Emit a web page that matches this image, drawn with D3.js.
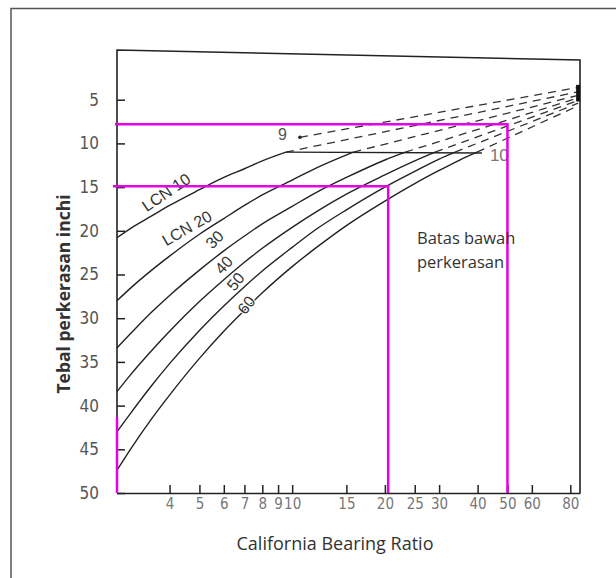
<!DOCTYPE html>
<html>
<head>
<meta charset="utf-8">
<script src="https://cdn.jsdelivr.net/npm/d3@7"></script>
<style>
  body { margin: 0; background: #fff; }
  svg { display: block; }
  .axis text { font-family: "Liberation Sans Narrow", "DejaVu Sans Condensed", "Liberation Sans", sans-serif; }
</style>
</head>
<body>
<div id="chart"></div>
<script>
// tick labels
var cbrTicks = [4, 5, 6, 7, 8, 9, 10, 15, 20, 25, 30, 40, 50, 60, 80];
var thickTicks = [5, 10, 15, 20, 25, 30, 35, 40, 45, 50];

// LCN curves, [CBR, thickness in inch]
var lcnNames = ["LCN 10", "LCN 20", "30", "40", "50", "60"];
var lcn10 = [[2.7, 20.8], [3, 19.7], [3.5, 18.3], [4, 17.1], [5, 15.3], [6, 13.9], [7, 12.9], [8, 12.0], [9.55, 11.0]];
var lcn20 = [[2.7, 28.0], [3, 26.5], [3.5, 24.5], [4, 22.9], [5, 20.4], [6, 18.6], [7, 17.1], [8, 15.9], [10, 14.2], [12, 12.8], [15.8, 11.0]];
var lcn30 = [[2.7, 33.4], [3, 31.7], [3.5, 29.3], [4, 27.4], [5, 24.5], [6, 22.3], [7, 20.6], [8, 19.2], [10, 17.2], [12, 15.6], [15, 13.9], [20, 11.9], [23.3, 11.0]];
var lcn40 = [[2.7, 38.4], [3, 36.4], [3.5, 33.7], [4, 31.5], [5, 28.1], [6, 25.6], [7, 23.6], [8, 22.0], [10, 19.6], [12, 17.8], [15, 15.8], [20, 13.6], [25, 12.0], [29.1, 11.0]];
var lcn50 = [[2.7, 43.0], [3, 40.8], [3.5, 37.7], [4, 35.2], [5, 31.4], [6, 28.6], [7, 26.4], [8, 24.6], [10, 21.9], [12, 19.8], [15, 17.6], [20, 15.0], [25, 13.2], [30, 11.8], [33.8, 11.0]];
var lcn60 = [[2.7, 47.4], [3, 44.9], [3.5, 41.5], [4, 38.8], [5, 34.6], [6, 31.5], [7, 29.1], [8, 27.1], [10, 24.1], [12, 21.9], [15, 19.4], [20, 16.6], [25, 14.6], [30, 13.1], [35, 11.9], [39.8, 11.0]];
var lcnCurves = [lcn10, lcn20, lcn30, lcn40, lcn50, lcn60];
// label anchor [CBR, thickness, angle]
var lcnLabelAt = [[3.9, 15.6, -34], [4.55, 19.7, -30], [5.6, 21.0, -45], [6.0, 23.9, -48], [6.55, 25.8, -50], [7.1, 28.5, -52]];

// limit line "10" and the dashed fan
var limitLine = [[9.55, 11.0], [41.3, 11.1]];
var dashStart = [[10.6, 9.3], [9.55, 11.0], [15.8, 11.0], [23.3, 11.0], [29.1, 11.0], [33.8, 11.0], [39.8, 11.0]];
var dashEnd = [[84.8, 3.6], [84.8, 4.1], [84.8, 4.5], [84.8, 4.8], [84.8, 5.1], [84.8, 5.4], [84.8, 5.7]];

// magenta reading lines
var readCbr = [50, 20.5];
var readThick = [7.8, 14.9];
var subgradeThick = [41.3, 50];

var svg = d3.select("#chart").append("svg")
  .attr("width", 616)
  .attr("height", 578);

var x = d3.scaleLog().domain([2.7, 86]).range([117, 580]),
  y = d3.scaleLinear().domain([0, 50]).range([56, 493]);

// outer border
svg.append("path")
  .attr("d", "M11,578 V8.5 H616")
  .attr("fill", "none")
  .attr("stroke", "#555")
  .attr("stroke-width", 1.5);

// plot frame (top edge is a bit skewed in the scan)
svg.append("path")
  .attr("d", "M" + x(2.7) + "," + y(50) + " V50 L" + x(86) + ",60 V" + y(50))
  .attr("fill", "none")
  .attr("stroke", "#222")
  .attr("stroke-width", 1.6);

var xAxis = d3.axisBottom(x).tickValues(cbrTicks).tickFormat(d3.format("d"))
  .tickSizeInner(-8).tickSizeOuter(0).tickPadding(5);
var yAxis = d3.axisLeft(y).tickValues(thickTicks)
  .tickSizeInner(-8).tickSizeOuter(0).tickPadding(18);

var gx = svg.append("g")
  .attr("class", "axis")
  .attr("transform", "translate(0," + y(50) + ")")
  .call(xAxis);
gx.select(".domain").attr("stroke", "#222").attr("stroke-width", 1.6);
gx.selectAll(".tick line").attr("stroke", "#222").attr("stroke-width", 1.5);
gx.selectAll(".tick text").attr("fill", "#777").style("font-size", "15px");

var gy = svg.append("g")
  .attr("class", "axis")
  .attr("transform", "translate(" + x(2.7) + ",0)")
  .call(yAxis);
gy.select(".domain").remove();
gy.selectAll(".tick line").attr("stroke", "#222").attr("stroke-width", 1.5);
gy.selectAll(".tick text").attr("fill", "#555").style("font-size", "17px");

var line = d3.line()
  .x(function(d) { return x(d[0]); })
  .y(function(d) { return y(d[1]); });

// dashed extensions
svg.selectAll(".dash")
  .data(dashStart)
  .enter()
  .append("path")
  .attr("class", "dash")
  .attr("d", function(d, i) { return line([d, dashEnd[i]]); })
  .attr("fill", "none")
  .attr("stroke", "#333")
  .attr("stroke-width", 1.3)
  .attr("stroke-dasharray", "8,6");

// blob where the dashed lines meet the edge
svg.append("path")
  .attr("d", line([[84.8, 3.3], [84.8, 5.2]]))
  .attr("stroke", "#111")
  .attr("stroke-width", 4);

svg.append("circle")
  .attr("cx", x(dashStart[0][0]))
  .attr("cy", y(dashStart[0][1]))
  .attr("r", 1.8)
  .attr("fill", "#222");
svg.append("text")
  .attr("x", x(dashStart[0][0]) - 22)
  .attr("y", y(dashStart[0][1]) + 3)
  .attr("font-family", "Liberation Sans Narrow, Liberation Sans, sans-serif")
  .attr("font-size", 16)
  .attr("fill", "#555")
  .text("9");

// limit line
svg.append("path")
  .attr("d", line(limitLine))
  .attr("fill", "none")
  .attr("stroke", "#222")
  .attr("stroke-width", 1.4);
svg.append("text")
  .attr("x", x(limitLine[1][0]) + 8)
  .attr("y", y(limitLine[1][1]) + 8)
  .attr("font-family", "Liberation Sans Narrow, Liberation Sans, sans-serif")
  .attr("font-size", 17)
  .attr("fill", "#777")
  .text("10");

// LCN curves
svg.selectAll(".lcn")
  .data(lcnCurves)
  .enter()
  .append("path")
  .attr("class", "lcn")
  .attr("d", line.curve(d3.curveMonotoneX))
  .attr("fill", "none")
  .attr("stroke", "#222")
  .attr("stroke-width", 1.4);

svg.selectAll(".lcnlabel")
  .data(lcnLabelAt)
  .enter()
  .append("text")
  .attr("class", "lcnlabel")
  .attr("transform", function(d) {
    return "translate(" + x(d[0]) + "," + y(d[1]) + ") rotate(" + d[2] + ")";
  })
  .attr("text-anchor", "middle")
  .attr("dy", "0.35em")
  .attr("font-family", "Liberation Sans Narrow, Liberation Sans, sans-serif")
  .attr("font-size", 16)
  .attr("fill", "#333")
  .attr("stroke", "#fff")
  .attr("stroke-width", 2)
  .attr("paint-order", "stroke")
  .text(function(d, i) { return lcnNames[i]; });

// magenta reading lines
var pink = "#e600e6";
readCbr.forEach(function(c, i) {
  svg.append("path")
    .attr("d", "M" + (x(2.7) - (i ? 4 : 2)) + "," + y(readThick[i]) + " H" + x(c) + " V" + y(50))
    .attr("fill", "none")
    .attr("stroke", pink)
    .attr("stroke-width", 2.5);
});
svg.append("path")
  .attr("d", line([[2.7, subgradeThick[0]], [2.7, subgradeThick[1]]]))
  .attr("stroke", pink)
  .attr("stroke-width", 2.5);

// texts
svg.append("text")
  .attr("x", 417)
  .attr("y", 244)
  .attr("font-family", "Open Sans, sans-serif")
  .attr("font-size", 16.5)
  .attr("fill", "#333")
  .text("Batas bawah");
svg.append("text")
  .attr("x", 417)
  .attr("y", 268)
  .attr("font-family", "Open Sans, sans-serif")
  .attr("font-size", 16.5)
  .attr("fill", "#333")
  .text("perkerasan");

svg.append("text")
  .attr("x", 335)
  .attr("y", 550)
  .attr("text-anchor", "middle")
  .attr("font-family", "Open Sans, sans-serif")
  .attr("font-size", 18)
  .attr("fill", "#333")
  .text("California Bearing Ratio");

svg.append("text")
  .attr("transform", "translate(70,294) rotate(-90)")
  .attr("text-anchor", "middle")
  .attr("font-family", "Open Sans, sans-serif")
  .attr("font-weight", "bold")
  .attr("font-size", 17.5)
  .attr("fill", "#333")
  .text("Tebal perkerasan inchi");
</script>
</body>
</html>
